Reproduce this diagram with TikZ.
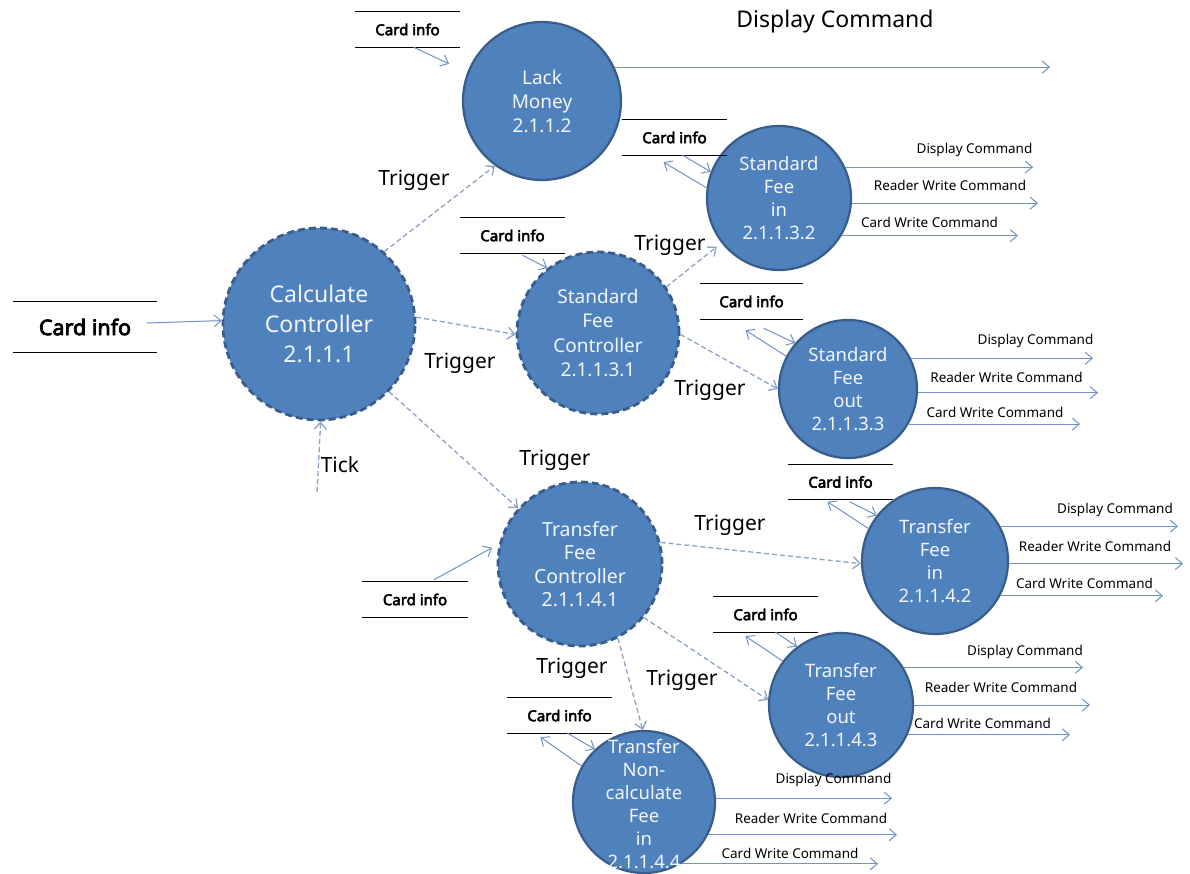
\documentclass[tikz,border=0pt]{standalone}
\usepackage{fontspec}
\setmainfont{Noto Sans}[AutoFakeBold=3.5]
\usetikzlibrary{arrows.meta}
\definecolor{cfill}{HTML}{4F81BD}
\definecolor{cborder}{HTML}{385D8A}
\definecolor{ctext}{HTML}{F2F5FA}
\definecolor{flow}{HTML}{6F93C6}
\definecolor{trigc}{HTML}{8DA3C6}
\begin{document}
\begin{tikzpicture}[x=1pt,y=-1pt,
  proc/.style={circle, fill=cfill, draw=cborder, line width=2.2pt, text=ctext, align=center, inner sep=0pt, font=\fontsize{18.5}{23}\selectfont},
  ctrl/.style={proc, line width=2.8pt, dash pattern=on 7pt off 4pt, font=\fontsize{19}{24.5}\selectfont},
  proctext/.style={text=ctext, align=center, inner sep=0pt, font=\fontsize{18.5}{23}\selectfont},
  store/.style={minimum width=105pt, minimum height=35pt, inner sep=0pt, font=\bfseries\fontsize{15}{17}\selectfont},
  storeline/.style={draw=black, line width=1.3pt},
  arr/.style={draw=flow, line width=1pt, -{Straight Barb[length=7pt,width=12pt]}},
  trig/.style={draw=trigc, line width=1.3pt, dash pattern=on 5pt off 3pt, -{Straight Barb[length=7pt,width=12pt]}},
  trigl/.style={font=\fontsize{21}{24}\selectfont, inner sep=0pt},
  outl/.style={font=\fontsize{13.5}{15}\selectfont, inner sep=0pt},
  bigl/.style={font=\fontsize{23}{26}\selectfont, inner sep=0pt}]
\useasboundingbox[fill=white] (0,0) rectangle (1190,874);

% processes
\node[ctrl, minimum size=192pt, font=\fontsize{23}{30}\selectfont] (cc) at (319,324) {Calculate\\Controller\\2.1.1.1};
\node[proc, minimum size=158pt, font=\fontsize{19}{24}\selectfont] (lm) at (542,101) {Lack\\Money\\2.1.1.2};
\node[ctrl, minimum size=162pt] (sfc) at (598,333) {Standard\\Fee\\Controller\\2.1.1.3.1};
\node[proc, minimum size=144pt] (sfi) at (779,198) {Standard\\Fee\\in\\2.1.1.3.2};
\node[proc, minimum size=138pt] (sfo) at (848,389) {Standard\\Fee\\out\\2.1.1.3.3};
\node[ctrl, minimum size=164pt, font=\fontsize{19.5}{23.5}\selectfont] (tfc) at (580,564) {Transfer\\Fee\\Controller\\2.1.1.4.1};
\node[proc, minimum size=146pt] (tfi) at (935,561) {Transfer\\Fee\\in\\2.1.1.4.2};
\node[proc, minimum size=144pt] (tfo) at (841,705) {Transfer\\Fee\\out\\2.1.1.4.3};
\node[proc, minimum size=142pt] (tnc) at (644,802) {};
\node[proctext] (tncT) at (644,804) {Transfer\\Non-\\calculate\\Fee\\in\\2.1.1.4.4};

% data stores
\node[store, minimum width=144pt, minimum height=50pt, font=\bfseries\fontsize{21.5}{24}\selectfont] (s0) at (85,327) {Card info};
\node[store] (s1) at (407.5,29.5) {Card info};
\node[store] (s2) at (512.5,235.5) {Card info};
\node[store] (s3) at (674.5,137.5) {Card info};
\node[store, minimum width=103pt] (s4) at (751.5,301.5) {Card info};
\node[store] (s5) at (415,599.5) {Card info};
\node[store] (s6) at (840.5,482) {Card info};
\node[store] (s7) at (765.5,614.5) {Card info};
\node[store] (s8) at (559.5,715.5) {Card info};
\foreach \s in {s0,s1,s2,s3,s4,s5,s6,s7,s8}
  \draw[storeline] (\s.north west) -- (\s.north east) (\s.south west) -- (\s.south east);

% free ends
\coordinate (d0) at (1050,68);
\coordinate (tk) at (317,492);
\coordinate (e1) at (1033,0); \coordinate (e2) at (1038,0); \coordinate (e3) at (1018,0);
\coordinate (f1) at (1093,0); \coordinate (f2) at (1098,0); \coordinate (f3) at (1080,0);
\coordinate (g1) at (1178,0); \coordinate (g2) at (1183,0); \coordinate (g3) at (1163,0);
\coordinate (h1) at (1083,0); \coordinate (h2) at (1090,0); \coordinate (h3) at (1070,0);
\coordinate (k1) at (892,0); \coordinate (k2) at (897,0); \coordinate (k3) at (878,0);

% inputs
\draw[arr] ([xshift=-10pt,yshift=4pt]s0.east) -- (cc.178);
\draw[arr, shorten >=20pt] ([xshift=6pt]s1.south) -- (lm.159);
\draw[arr] ([xshift=10pt,yshift=-2pt]s2.south) -- (sfc.128);
\draw[arr] ([xshift=8pt]s3.south) -- (sfi.159);
\draw[arr] (sfi.172) -- ([xshift=-11pt,yshift=-7pt]s3.south);
\draw[arr] ([xshift=12pt,yshift=-9pt]s4.south) -- (sfo.139);
\draw[arr] (sfo.152) -- ([xshift=-6pt,yshift=-11pt]s4.south);
\draw[arr, shorten >=8pt] ([xshift=19pt,yshift=2pt]s5.north) -- (tfc.166);
\draw[arr] ([xshift=9pt,yshift=-2pt]s6.south) -- (tfi.142);
\draw[arr] (tfi.154) -- ([xshift=-13pt,yshift=-2pt]s6.south);
\draw[arr] ([xshift=10pt]s7.south) -- (tfo.127);
\draw[arr] (tfo.143) -- ([xshift=-20pt,yshift=-4pt]s7.south);
\draw[arr] ([xshift=8pt]s8.south) -- (tnc.133);
\draw[arr] (tnc.150) -- ([xshift=-19pt,yshift=-4pt]s8.south);

% triggers
\draw[trig] (cc.48) -- (lm.234);
\draw[trig] (cc.4) -- (sfc.181);
\draw[trig] (cc.-44) -- (tfc.138);
\draw[trig] (tk) -- (cc.271);
\draw[trig, shorten >=6pt] (sfc.34) -- (sfi.218);
\draw[trig] (sfc.-1) -- (sfo.180);
\draw[trig] (tfc.15) -- (tfi.182);
\draw[trig] (tfc.-40) -- (tfo.176);
\draw[trig] (tfc.-63) -- (tnc.91);
\node[trigl] (tg1) at (414,180) {Trigger};
\node[trigl] (tg2) at (460,363) {Trigger};
\node[trigl] (tg3) at (555,460) {Trigger};
\node[trigl] (tick) at (340,465) {Tick};
\node[trigl] (tg4) at (670,245) {Trigger};
\node[trigl] (tg5) at (710,390) {Trigger};
\node[trigl] (tg6) at (730,525) {Trigger};
\node[trigl] (tg7) at (682,680) {Trigger};
\node[trigl] (tg8) at (572,668) {Trigger};

% outputs
\draw[arr] (lm.25) -- (lm.25 -| d0);
\node[bigl] (t0) at (835,22) {Display Command};

\draw[arr] (sfi.25) -- (sfi.25 -| e1);
\draw[arr] (sfi.-4) -- (sfi.-4 -| e2);
\draw[arr] (sfi.-31) -- (sfi.-31 -| e3);
\node[outl] (o11) at (974.5,150) {Display Command};
\node[outl] (o12) at (950,185) {Reader Write Command};
\node[outl] (o13) at (929.5,222) {Card Write Command};

\draw[arr] (sfo.26) -- (sfo.26 -| f1);
\draw[arr] (sfo.-3) -- (sfo.-3 -| f2);
\draw[arr] (sfo.-30.5) -- (sfo.-30.5 -| f3);
\node[outl] (o21) at (1035.5,341) {Display Command};
\node[outl] (o22) at (1006.5,377) {Reader Write Command};
\node[outl] (o23) at (995,412) {Card Write Command};

\draw[arr] (tfi.28) -- (tfi.28 -| g1);
\draw[arr] (tfi.-2) -- (tfi.-2 -| g2);
\draw[arr] (tfi.-28) -- (tfi.-28 -| g3);
\node[outl] (o31) at (1115,510) {Display Command};
\node[outl] (o32) at (1095,546) {Reader Write Command};
\node[outl] (o33) at (1084.5,583) {Card Write Command};

\draw[arr] (tfo.31) -- (tfo.31 -| h1);
\draw[arr] (tfo.0) -- (tfo.0 -| h2);
\draw[arr] (tfo.-24) -- (tfo.-24 -| h3);
\node[outl] (o41) at (1025,652) {Display Command};
\node[outl] (o42) at (1001,687) {Reader Write Command};
\node[outl] (o43) at (982.5,723) {Card Write Command};

\draw[arr] (tnc.3) -- (tnc.3 -| k1);
\draw[arr] (tnc.-27) -- (tnc.-27 -| k2);
\draw[arr] (tnc.-59) -- (tnc.-59 -| k3);
\node[outl] (o51) at (833.5,780) {Display Command};
\node[outl] (o52) at (811,818) {Reader Write Command};
\node[outl] (o53) at (790,853) {Card Write Command};
\end{tikzpicture}
\end{document}
